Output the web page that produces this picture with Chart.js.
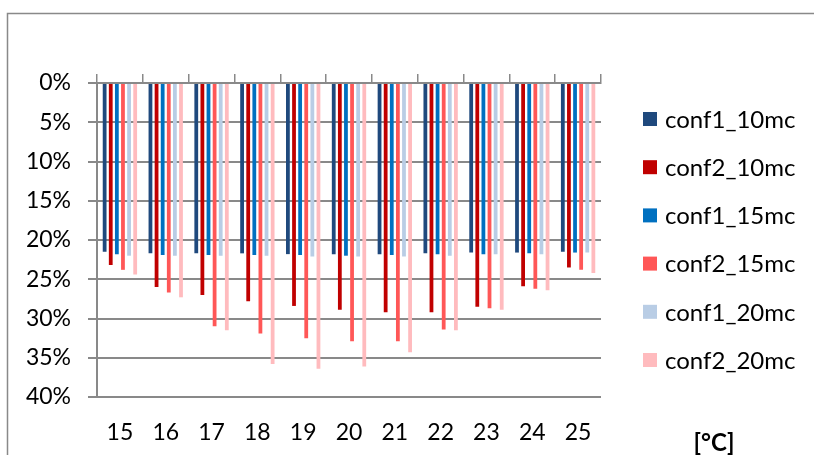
<!DOCTYPE html>
<html>
<head>
<meta charset="utf-8">
<script src="https://cdn.jsdelivr.net/npm/chart.js@4/dist/chart.umd.min.js"></script>
<style>
  html, body { margin: 0; padding: 0; background: #fff; }
  #wrap { position: relative; width: 814px; height: 455px; }
</style>
</head>
<body>
<div id="wrap"><canvas id="graph" width="814" height="455"></canvas></div>
<script>
// categories (temperature, °C)
const temps = ["15", "16", "17", "18", "19", "20", "21", "22", "23", "24", "25"]

// series values, in %
const conf1_10mc = [21.5, 21.7, 21.7, 21.7, 21.8, 21.8, 21.8, 21.7, 21.6, 21.6, 21.5]
const conf2_10mc = [23.2, 26.0, 27.0, 27.8, 28.4, 28.9, 29.2, 29.2, 28.5, 25.9, 23.5]
const conf1_15mc = [21.8, 21.9, 21.9, 21.9, 21.9, 22.0, 21.9, 21.8, 21.8, 21.7, 21.6]
const conf2_15mc = [23.8, 26.7, 31.0, 31.9, 32.5, 32.9, 32.9, 31.4, 28.7, 26.2, 23.8]
const conf1_20mc = [22.0, 22.0, 22.0, 22.0, 22.1, 22.1, 22.1, 22.0, 21.8, 21.8, 21.6]
const conf2_20mc = [24.4, 27.3, 31.5, 35.8, 36.4, 36.1, 34.3, 31.5, 28.9, 26.4, 24.2]

// value axis ticks
const yTicks = [0, 5, 10, 15, 20, 25, 30, 35, 40]

const unitLabel = "[°C]"

const FONT = "Lato, 'Open Sans', sans-serif"
const GRID = "#898989"

const frame = {
    id: "frame",
    beforeDraw: (chart) => {
        const ctx = chart.ctx
        ctx.save()
        ctx.strokeStyle = GRID
        ctx.lineWidth = 1.5
        ctx.strokeRect(7.5, 13.5, 1000, 1000)
        ctx.restore()
    },
    afterDraw: (chart) => {
        const ctx = chart.ctx
        ctx.save()
        // legend
        ctx.font = "24px " + FONT
        ctx.textBaseline = "middle"
        ctx.textAlign = "left"
        chart.data.datasets.forEach((ds, i) => {
            let y = 119 + i * 48.2
            ctx.fillStyle = ds.backgroundColor
            ctx.fillRect(643, y - 7, 14, 14)
            ctx.fillStyle = "#000"
            ctx.fillText(ds.label, 665, y + 1)
        })
        // unit
        ctx.font = "bold 24px " + FONT
        ctx.textAlign = "center"
        ctx.fillText(unitLabel, 714, 443)
        ctx.restore()
    }
}

var graph = document.getElementById("graph").getContext("2d")
var graph_chart = new Chart(graph, {
    type : "bar",
    plugins: [frame],
    data : {
        labels : temps,
        datasets : [
            { label: "conf1_10mc", data: conf1_10mc, backgroundColor: "#1F497D" },
            { label: "conf2_10mc", data: conf2_10mc, backgroundColor: "#C00000" },
            { label: "conf1_15mc", data: conf1_15mc, backgroundColor: "#0070C0" },
            { label: "conf2_15mc", data: conf2_15mc, backgroundColor: "#FF5757" },
            { label: "conf1_20mc", data: conf1_20mc, backgroundColor: "#B9CDE5" },
            { label: "conf2_20mc", data: conf2_20mc, backgroundColor: "#FFBBBE" }
        ]
    },
    options: {
        responsive: false,
        animation: false,
        devicePixelRatio: 1,
        layout: { padding: { left: 0, right: 213, top: 74, bottom: 0 } },
        datasets: { bar: { categoryPercentage: 0.8, barPercentage: 0.62 } },
        plugins: { legend: { display: false }, tooltip: { enabled: false } },
        scales: {
            x: {
                position: "top",
                offset: true,
                ticks: { display: false },
                grid: { offset: true, drawOnChartArea: false, drawTicks: true, tickLength: 9, color: GRID, lineWidth: 1.5 },
                border: { display: true, color: GRID, width: 2 }
            },
            x2: {
                type: "category",
                position: "bottom",
                offset: true,
                grid: { display: false },
                border: { display: false },
                ticks: { color: "#000", font: { family: FONT, size: 23 }, padding: 14, maxRotation: 0 },
                afterFit: (s) => { s.height = 58 }
            },
            y: {
                reverse: true,
                min: 0,
                max: 40,
                afterBuildTicks: (s) => { s.ticks = yTicks.map(v => ({ value: v })) },
                ticks: { color: "#000", font: { family: FONT, size: 23 }, padding: 17, callback: (v) => v + "%" },
                grid: { color: GRID, lineWidth: 2, tickLength: 9, drawTicks: true },
                border: { display: true, color: GRID, width: 2 },
                afterFit: (s) => { s.width = 97 }
            }
        }
    }
})
</script>
</body>
</html>
